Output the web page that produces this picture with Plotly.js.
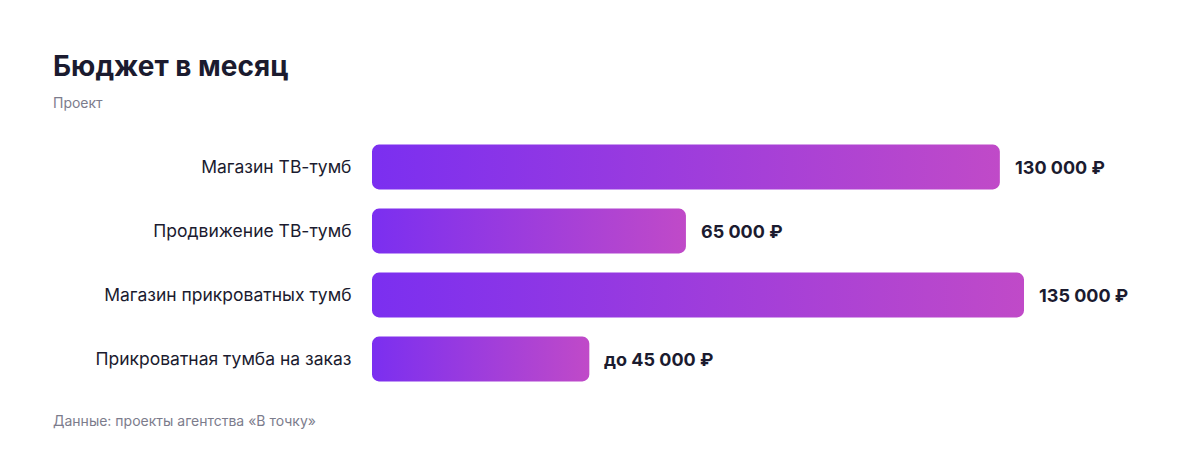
<!DOCTYPE html>
<html>
<head>
<meta charset="utf-8">
<script src="https://cdn.plot.ly/plotly-3.0.1.min.js"></script>
<style>
  html, body { margin: 0; padding: 0; background: #fff; }
  #chart { width: 1200px; height: 456px; }
</style>
</head>
<body>
<div id="chart"></div>
<script>
const categories = [
  'Магазин ТВ-тумб',
  'Продвижение ТВ-тумб',
  'Магазин прикроватных тумб',
  'Прикроватная тумба на заказ'
];
const budgets = [130000, 65000, 135000, 45000];
const prefixes = ['', '', '', 'до '];

const chartTitle = 'Бюджет в месяц';
const chartSubtitle = 'Проект';
const sourceNote = 'Данные: проекты агентства «В точку»';

const FONT = 'Inter, "Liberation Sans", Arial, sans-serif';
const INK = '#1b1b2f';
const MUTED = '#7c7c8c';

// plot area in pixels
const W = 1200, H = 456;
const M = { l: 372, r: 176, t: 135, b: 65 };
const plotW = W - M.l - M.r;
const plotH = H - M.t - M.b;
const toPaperX = (px) => (px - M.l) / plotW;
const toPaperY = (py) => (H - M.b - py) / plotH;

function fmt(v) {
  return String(v).replace(/\B(?=(\d{3})+(?!\d))/g, ' ');
}

const valueLabels = budgets.map((v, i) => ({
  x: v,
  y: categories[i],
  xref: 'x', yref: 'y',
  text: '<b>' + prefixes[i] + fmt(v) + ' ₽</b>',
  showarrow: false,
  xanchor: 'left',
  xshift: 13,
  font: { family: FONT, size: 18, color: INK }
}));

const data = [{
  type: 'bar',
  orientation: 'h',
  x: budgets,
  y: categories,
  width: 0.7,
  marker: { color: '#9a3fe0', line: { width: 0 } },
  hoverinfo: 'skip'
}];

const layout = {
  width: W,
  height: H,
  margin: M,
  paper_bgcolor: '#ffffff',
  plot_bgcolor: '#ffffff',
  showlegend: false,
  font: { family: FONT, color: INK },
  xaxis: {
    range: [0, Math.max(...budgets)],
    visible: false,
    fixedrange: true
  },
  yaxis: {
    type: 'category',
    autorange: 'reversed',
    showgrid: false,
    zeroline: false,
    showline: false,
    ticks: 'outside',
    ticklen: 16,
    tickcolor: 'rgba(0,0,0,0)',
    tickfont: { family: FONT, size: 17.5, color: INK },
    fixedrange: true
  },
  annotations: [
    {
      xref: 'paper', yref: 'paper',
      x: toPaperX(51), y: toPaperY(66),
      xanchor: 'left', yanchor: 'middle',
      text: '<b>' + chartTitle + '</b>',
      showarrow: false,
      font: { family: FONT, size: 28, color: INK }
    },
    {
      xref: 'paper', yref: 'paper',
      x: toPaperX(51), y: toPaperY(102),
      xanchor: 'left', yanchor: 'middle',
      text: chartSubtitle,
      showarrow: false,
      font: { family: FONT, size: 14, color: MUTED }
    },
    {
      xref: 'paper', yref: 'paper',
      x: toPaperX(51), y: toPaperY(420),
      xanchor: 'left', yanchor: 'middle',
      text: sourceNote,
      showarrow: false,
      font: { family: FONT, size: 14, color: MUTED }
    },
    ...valueLabels
  ]
};

const el = document.getElementById('chart');

// give every bar a left-to-right gradient and round all four corners
function styleBars() {
  const svg = el.querySelector('svg.main-svg');
  if (!svg) return;
  const ns = 'http://www.w3.org/2000/svg';
  let defs = svg.querySelector('defs');
  if (!defs) { defs = document.createElementNS(ns, 'defs'); svg.insertBefore(defs, svg.firstChild); }
  if (!svg.querySelector('#barGrad')) {
    const g = document.createElementNS(ns, 'linearGradient');
    g.setAttribute('id', 'barGrad');
    g.setAttribute('x1', '0'); g.setAttribute('y1', '0');
    g.setAttribute('x2', '1'); g.setAttribute('y2', '0');
    [['0', '#7b2ff0'], ['1', '#c04ac8']].forEach(([o, c]) => {
      const s = document.createElementNS(ns, 'stop');
      s.setAttribute('offset', o);
      s.setAttribute('stop-color', c);
      g.appendChild(s);
    });
    defs.appendChild(g);
  }
  const r = 7;
  el.querySelectorAll('.bars .point path').forEach((p) => {
    const b = p.getBBox();
    const x0 = b.x, y0 = b.y, x1 = b.x + b.width, y1 = b.y + b.height;
    p.setAttribute('d',
      `M${x0 + r},${y0}H${x1 - r}A${r},${r} 0 0 1 ${x1},${y0 + r}` +
      `V${y1 - r}A${r},${r} 0 0 1 ${x1 - r},${y1}H${x0 + r}` +
      `A${r},${r} 0 0 1 ${x0},${y1 - r}V${y0 + r}A${r},${r} 0 0 1 ${x0 + r},${y0}Z`);
    p.style.fill = 'url(#barGrad)';
    p.style.fillOpacity = 1;
  });
}

Plotly.newPlot(el, data, layout, { displayModeBar: false, staticPlot: true }).then(styleBars);
</script>
</body>
</html>
